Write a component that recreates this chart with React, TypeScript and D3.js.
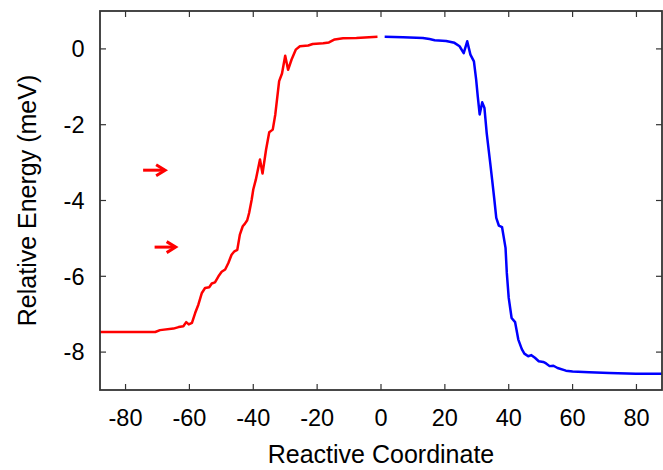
import React from 'react';
import * as d3 from 'd3';

// red branch (reactive coordinate, relative energy in meV)
const redX = [-88, -70.7, -69.2, -65, -63.4, -61.9, -61, -60.2, -59.2, -58.2, -57.2, -56.1, -55.1, -53.8, -53, -52, -50.9, -49.9, -48.8, -47.8, -46.8, -45.9, -45, -44.2, -43.3, -42.6, -41.9, -41.3, -40.5, -40, -39.2, -37.9, -37.1, -36, -35, -33.9, -33.1, -31.9, -31, -30, -29.1, -28, -26.7, -25.4, -22.8, -21.4, -18.1, -16.3, -14.5, -11.9, -7.7, -1.1];
const redY = [-7.47, -7.47, -7.42, -7.38, -7.34, -7.32, -7.21, -7.27, -7.23, -6.97, -6.75, -6.44, -6.31, -6.29, -6.19, -6.16, -6.0, -5.88, -5.82, -5.65, -5.43, -5.34, -5.3, -4.9, -4.68, -4.61, -4.52, -4.33, -3.98, -3.71, -3.45, -2.92, -3.29, -2.66, -2.2, -2.13, -1.73, -0.85, -0.65, -0.18, -0.55, -0.28, -0.02, 0.07, 0.09, 0.13, 0.15, 0.17, 0.25, 0.28, 0.29, 0.32];

// blue branch
const blueX = [1.15, 6.9, 13.1, 15.2, 16.8, 20.4, 23, 24.6, 25.9, 27, 28, 29.1, 29.8, 30.3, 30.9, 31.7, 32.4, 33.1, 34.2, 34.8, 35.5, 36.1, 36.9, 37.9, 39, 39.4, 40, 40.9, 42, 43, 44.1, 44.9, 46.1, 47.1, 48.2, 49.4, 50.8, 51.7, 52.8, 54, 55.3, 57.9, 60, 65.2, 71.5, 79.8, 88];
const blueY = [0.32, 0.31, 0.29, 0.26, 0.23, 0.21, 0.16, 0.07, -0.11, 0.2, -0.15, -0.33, -0.81, -1.25, -1.73, -1.41, -1.56, -2.22, -3.01, -3.45, -3.98, -4.46, -4.66, -4.7, -5.25, -5.91, -6.57, -7.1, -7.21, -7.67, -7.92, -8.04, -8.11, -8.08, -8.15, -8.24, -8.26, -8.3, -8.37, -8.36, -8.42, -8.49, -8.51, -8.53, -8.55, -8.57, -8.57];

// arrows: [x1, x2, y]
const arrows = [
  [-74.5, -67.6, -3.2],
  [-70.9, -64.3, -5.23],
];

const xTicks = [-80, -60, -40, -20, 0, 20, 40, 60, 80];
const yTicks = [0, -2, -4, -6, -8];

const W = 663;
const H = 470;
const margin = { top: 11, right: 1, bottom: 80, left: 100 };
const font = '"Liberation Sans", Arial, Helvetica, sans-serif';

const App = () => {
  const x = d3.scaleLinear().domain([-88, 88]).range([margin.left, W - margin.right]);
  const y = d3.scaleLinear().domain([-9, 1]).range([H - margin.bottom, margin.top]);
  const line = d3.line<[number, number]>().x(d => x(d[0])).y(d => y(d[1]));
  const red = redX.map((v, i) => [v, redY[i]] as [number, number]);
  const blue = blueX.map((v, i) => [v, blueY[i]] as [number, number]);
  const [x0, x1] = x.range();
  const [yb, yt] = y.range();
  const tl = 6;
  const axisColor = '#333';

  return (
    <svg width={W} height={H} style={{ position: 'absolute', left: 0, top: 0, background: '#fff' }} fontFamily={font}>
      {/* ticks, mirrored on all sides */}
      {xTicks.map(t => (
        <g key={'x' + t}>
          <line x1={x(t)} x2={x(t)} y1={yb} y2={yb - tl} stroke={axisColor} strokeWidth={1.2} />
          <line x1={x(t)} x2={x(t)} y1={yt} y2={yt + tl} stroke={axisColor} strokeWidth={1.2} />
          <text x={x(t)} y={426} textAnchor="middle" fontSize={23.5} fill="#000">{t}</text>
        </g>
      ))}
      {yTicks.map(t => (
        <g key={'y' + t}>
          <line x1={x0} x2={x0 + tl} y1={y(t)} y2={y(t)} stroke={axisColor} strokeWidth={1.2} />
          <line x1={x1} x2={x1 - tl} y1={y(t)} y2={y(t)} stroke={axisColor} strokeWidth={1.2} />
          <text x={84.5} y={y(t) + 8.3} textAnchor="end" fontSize={23.5} fill="#000">{t}</text>
        </g>
      ))}

      <path d={line(red) || ''} fill="none" stroke="#ff0000" strokeWidth={2.5} strokeLinejoin="round" />
      <path d={line(blue) || ''} fill="none" stroke="#0000ff" strokeWidth={2.5} strokeLinejoin="round" />

      {arrows.map((a, i) => (
        <g key={'a' + i} stroke="#ff0000" strokeWidth={3} fill="none">
          <line x1={x(a[0])} x2={x(a[1]) - 1} y1={y(a[2])} y2={y(a[2])} />
          <polyline points={`${x(a[1]) - 9},${y(a[2]) - 5.5} ${x(a[1])},${y(a[2])} ${x(a[1]) - 9},${y(a[2]) + 5.5}`} />
        </g>
      ))}

      <rect x={x0} y={yt} width={x1 - x0} height={yb - yt} fill="none" stroke={axisColor} strokeWidth={1.8} />

      <text x={(x0 + x1) / 2} y={463} textAnchor="middle" fontSize={25} fill="#000">Reactive Coordinate</text>
      <text transform={`translate(36,${(yt + yb) / 2}) rotate(-90)`} textAnchor="middle" fontSize={25} fill="#000">Relative Energy (meV)</text>
    </svg>
  );
};

export default App;
